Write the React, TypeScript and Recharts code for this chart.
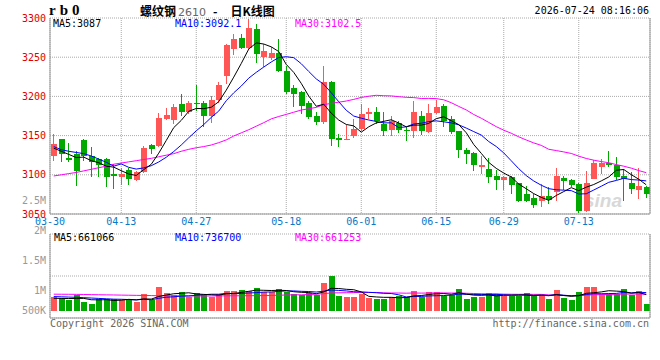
import type { FC } from "react";
import { ComposedChart, Bar, Line, XAxis, YAxis, CartesianGrid } from "recharts";

// rb2610 daily candles, 03-30 .. 07-24
const dates = [
  "03-30", "03-31", "04-01", "04-02", "04-03", "04-07", "04-08", "04-09", "04-10", "04-13",
  "04-14", "04-15", "04-16", "04-17", "04-20", "04-21", "04-22", "04-23", "04-24", "04-27",
  "04-28", "04-29", "04-30", "05-06", "05-07", "05-08", "05-11", "05-12", "05-13", "05-14",
  "05-15", "05-18", "05-19", "05-20", "05-21", "05-22", "05-25", "05-26", "05-27", "05-28",
  "05-29", "06-01", "06-02", "06-03", "06-04", "06-05", "06-08", "06-09", "06-10", "06-11",
  "06-12", "06-15", "06-16", "06-17", "06-18", "06-22", "06-23", "06-24", "06-25", "06-26",
  "06-29", "06-30", "07-01", "07-02", "07-03", "07-06", "07-07", "07-08", "07-09", "07-10",
  "07-13", "07-14", "07-15", "07-16", "07-17", "07-20", "07-21", "07-22", "07-23", "07-24",
];

const opens = [
  3124, 3146, 3122, 3127, 3144, 3124, 3120, 3120, 3101, 3097,
  3106, 3094, 3103, 3138, 3137, 3171, 3170, 3190, 3180, 3191,
  3191, 3175, 3195, 3226, 3261, 3274, 3262, 3286, 3250, 3249,
  3255, 3233, 3211, 3206, 3191, 3175, 3167, 3218, 3147, 3144,
  3150, 3158, 3178, 3180, 3165, 3157, 3166, 3157, 3156, 3175,
  3154, 3179, 3188, 3171, 3156, 3132, 3128, 3110, 3107, 3098,
  3093, 3097, 3089, 3075, 3071, 3066, 3073, 3078, 3096, 3093,
  3088, 3054, 3095, 3110, 3115, 3113, 3098, 3090, 3080, 3084,
];
const highs = [
  3152, 3146, 3141, 3130, 3146, 3135, 3122, 3122, 3114, 3109,
  3109, 3105, 3137, 3139, 3179, 3185, 3190, 3203, 3194, 3215,
  3194, 3200, 3218, 3267, 3279, 3279, 3299, 3292, 3267, 3263,
  3273, 3239, 3214, 3207, 3194, 3180, 3239, 3220, 3152, 3163,
  3171, 3190, 3185, 3187, 3180, 3175, 3168, 3161, 3194, 3182,
  3190, 3195, 3190, 3175, 3156, 3134, 3129, 3124, 3121, 3106,
  3098, 3098, 3090, 3086, 3076, 3088, 3084, 3109, 3099, 3095,
  3090, 3105, 3119, 3120, 3130, 3123, 3107, 3103, 3109, 3086,
];
const lows = [
  3118, 3116, 3116, 3086, 3118, 3097, 3097, 3084, 3082, 3087,
  3087, 3092, 3102, 3127, 3135, 3170, 3165, 3175, 3178, 3182,
  3161, 3166, 3192, 3216, 3253, 3261, 3261, 3243, 3237, 3246,
  3231, 3203, 3186, 3178, 3171, 3163, 3165, 3137, 3136, 3144,
  3147, 3156, 3171, 3165, 3150, 3149, 3153, 3143, 3147, 3151,
  3153, 3178, 3161, 3152, 3121, 3114, 3105, 3101, 3090, 3080,
  3080, 3076, 3065, 3065, 3058, 3059, 3063, 3066, 3081, 3084,
  3051, 3053, 3095, 3101, 3110, 3093, 3067, 3076, 3069, 3071,
];
const closes = [
  3139, 3126, 3119, 3105, 3124, 3116, 3113, 3097, 3099, 3101,
  3095, 3104, 3134, 3133, 3172, 3176, 3186, 3180, 3191, 3190,
  3175, 3195, 3215, 3265, 3273, 3262, 3287, 3254, 3258, 3255,
  3232, 3205, 3203, 3188, 3174, 3167, 3218, 3146, 3144, 3146,
  3158, 3178, 3180, 3169, 3156, 3168, 3157, 3156, 3180, 3156,
  3179, 3187, 3168, 3155, 3131, 3127, 3112, 3112, 3097, 3093,
  3097, 3087, 3067, 3067, 3062, 3073, 3068, 3098, 3092, 3087,
  3054, 3090, 3115, 3115, 3112, 3097, 3095, 3082, 3086, 3076,
];
const volumes = [
  547000, 506000, 437000, 642000, 369000, 273000, 478000, 478000, 478000, 437000,
  437000, 369000, 683000, 437000, 970000, 724000, 642000, 765000, 547000, 724000,
  642000, 574000, 683000, 806000, 806000, 847000, 806000, 929000, 765000, 765000,
  888000, 765000, 683000, 642000, 724000, 642000, 1134000, 1421000, 601000, 560000,
  560000, 683000, 519000, 478000, 478000, 560000, 601000, 560000, 806000, 560000,
  765000, 765000, 601000, 642000, 888000, 478000, 560000, 560000, 724000, 683000,
  601000, 601000, 601000, 724000, 601000, 642000, 478000, 847000, 519000, 437000,
  765000, 970000, 970000, 683000, 683000, 683000, 888000, 642000, 806000, 273000,
];

// moving averages where the window reaches before 03-30
const ma5Head = [3134, 3130, 3126, 3122];
const ma10Head = [3136, 3132, 3130, 3128.5, 3127, 3124, 3120, 3116, 3111];
const ma30Head = [
  3098.5, 3100, 3101.5, 3103, 3105, 3107, 3109, 3111, 3113.5, 3115,
  3116.5, 3118, 3119.5, 3121, 3123, 3125, 3127, 3130, 3132.5, 3134.5,
  3136, 3138, 3141, 3144.5, 3149.5, 3153.5, 3157.5, 3162, 3166.5,
];
const volMa5Head = [505000, 500000, 495000, 498000];
const volMa10Head = [575000, 565000, 555000, 545000, 530000, 515000, 500000, 485000, 470000];
const volMa30Head = [
  672000, 670000, 668000, 665000, 660000, 655000, 650000, 645000, 640000, 635000,
  630000, 625000, 620000, 615000, 610000, 607000, 605000, 603000, 600000, 600000,
  600000, 600000, 602000, 604000, 606000, 608000, 610000, 613000, 616000,
];

const dateTicks = ["03-30", "04-13", "04-27", "05-18", "06-01", "06-15", "06-29", "07-13"];
const priceTicks = [3050, 3100, 3150, 3200, 3250, 3300];
const volLabelTicks = [500000, 1000000, 1500000, 2000000, 2500000];

const RED = "#ff5555";
const GREEN = "#00a800";
const GRID = "#aaaaaa";
const FRAME = "#999999";
const mono = '"DejaVu Sans Mono", "Liberation Mono", monospace';

const movingAvg = (src: number[], n: number, head: number[]) =>
  src.map((_, i) =>
    i < n - 1 ? head[i] : src.slice(i - n + 1, i + 1).reduce((a, b) => a + b, 0) / n
  );

const ma5 = movingAvg(closes, 5, ma5Head);
const ma10 = movingAvg(closes, 10, ma10Head);
const ma30 = movingAvg(closes, 30, ma30Head);
const vma5 = movingAvg(volumes, 5, volMa5Head);
const vma10 = movingAvg(volumes, 10, volMa10Head);
const vma30 = movingAvg(volumes, 30, volMa30Head);

const rows = dates.map((date, i) => ({
  pos: i + 0.5,
  date,
  open: opens[i],
  high: highs[i],
  low: lows[i],
  close: closes[i],
  range: [lows[i], highs[i]],
  ma5: ma5[i],
  ma10: ma10[i],
  ma30: ma30[i],
  vol: volumes[i],
  vma5: vma5[i],
  vma10: vma10[i],
  vma30: vma30[i],
}));

// x ticks: first label sits on the left frame, the rest on their candle
const tickPos = dateTicks.map((d) => (d === dates[0] ? 0 : dates.indexOf(d) + 0.5));
const tickLabel = (v: number) => dates[Math.floor(v)] ?? "";

const volMin = -300000;
const volMax = 3130000;
const volGrid = [1, 2, 3, 4].map((k) => volMin + ((volMax - volMin) * k) / 4);

const fmtVol = (v: number) => (v >= 1000000 ? `${v / 1000000}M` : `${v / 1000}K`);

const Candle = (props: any) => {
  const { x, y, width, height, payload } = props;
  const { open, close, high, low } = payload;
  const color = close >= open ? RED : GREEN;
  const k = high > low ? height / (high - low) : 0;
  const yOf = (v: number) => y + (high - v) * k;
  const left = Math.round(x);
  const w = Math.round(width);
  const cx = left + Math.floor(w / 2) - 0.5;
  const top = Math.round(yOf(Math.max(open, close)));
  const bottom = Math.round(yOf(Math.min(open, close)));
  return (
    <g>
      <line x1={cx} x2={cx} y1={Math.round(yOf(high))} y2={Math.round(yOf(low))} stroke={color} strokeWidth={1} />
      <rect x={left} y={top} width={w} height={Math.max(1, bottom - top)} fill={color} />
    </g>
  );
};

const VolBar = (props: any) => {
  const { x, y, width, height, payload } = props;
  const top = Math.round(y);
  const bottom = Math.round(y + height);
  return (
    <rect
      x={Math.round(x)}
      y={top}
      width={Math.round(width)}
      height={Math.max(0, bottom - top)}
      fill={payload.close >= payload.open ? RED : GREEN}
    />
  );
};

const VolTick = (props: any) => {
  const { x, y, payload } = props;
  return (
    <text x={x} y={Math.min(y, 310)} dy="0.355em" textAnchor="end" fill="#999" fontSize={10} fontFamily={mono}>
      {fmtVol(payload.value)}
    </text>
  );
};

const Txt: FC<{ x: number; y: number; color?: string; right?: boolean; children: any }> = ({
  x,
  y,
  color = "#000",
  right,
  children,
}) => (
  <div
    style={{
      position: "absolute",
      top: y - 6,
      ...(right ? { right: 660 - x } : { left: x }),
      color,
      font: `10px ${mono}`,
      lineHeight: "12px",
      whiteSpace: "pre",
    }}
  >
    {children}
  </div>
);

const layer = { position: "absolute" as const, left: 0, top: 0 };

const App: FC = () => {
  return (
    <div style={{ position: "absolute", left: 0, top: 0, width: 660, height: 360, background: "#fff", overflow: "hidden" }}>
      <div
        style={{
          position: "absolute",
          left: 584,
          top: 190,
          color: "#d8d8d8",
          font: 'italic bold 19px "Liberation Sans", sans-serif',
        }}
      >
        sina
      </div>

      <div style={layer}>
        <ComposedChart width={660} height={360} data={rows} margin={{ top: 18, right: 9, bottom: 130, left: 0 }}>
          <CartesianGrid stroke={GRID} strokeDasharray="1 1" />
          <XAxis
            type="number"
            dataKey="pos"
            domain={[0, 80]}
            ticks={tickPos}
            interval={0}
            tickFormatter={tickLabel}
            height={16}
            tickSize={2}
            tickMargin={2}
            tickLine={false}
            axisLine={{ stroke: FRAME }}
            tick={{ fill: "#0a78c8", fontSize: 10, fontFamily: mono }}
          />
          <YAxis
            domain={[3050, 3300]}
            allowDataOverflow
            ticks={priceTicks}
            interval={0}
            width={50}
            tickSize={2}
            tickMargin={2}
            tickLine={false}
            axisLine={{ stroke: FRAME }}
            tick={{ fill: "#e00000", fontSize: 10, fontFamily: mono }}
          />
          <YAxis yAxisId="frame" orientation="right" domain={[0, 1]} width={1} tick={false} tickLine={false} axisLine={{ stroke: FRAME }} />
          <Bar dataKey="range" barSize={6} shape={Candle} isAnimationActive={false} />
          <Line type="linear" dataKey="ma30" stroke="#ff00ff" strokeWidth={1} dot={false} isAnimationActive={false} />
          <Line type="linear" dataKey="ma10" stroke="#0000ff" strokeWidth={1} dot={false} isAnimationActive={false} />
          <Line type="linear" dataKey="ma5" stroke="#000000" strokeWidth={1} dot={false} isAnimationActive={false} />
        </ComposedChart>
      </div>

      <div style={layer}>
        <ComposedChart width={660} height={360} data={rows} margin={{ top: 234, right: 9, bottom: 41, left: 0 }}>
          <CartesianGrid yAxisId="vol" stroke={GRID} strokeDasharray="1 1" />
          <XAxis
            type="number"
            dataKey="pos"
            domain={[0, 80]}
            ticks={tickPos}
            interval={0}
            height={1}
            tick={false}
            tickLine={false}
            axisLine={{ stroke: FRAME }}
          />
          <YAxis yAxisId="vol" hide domain={[volMin, volMax]} allowDataOverflow ticks={volGrid} />
          <YAxis
            yAxisId="lbl"
            domain={[550000, 1945000]}
            allowDataOverflow
            ticks={volLabelTicks}
            interval={0}
            width={50}
            tickSize={2}
            tickMargin={2}
            tickLine={false}
            axisLine={{ stroke: FRAME }}
            tick={VolTick}
          />
          <YAxis yAxisId="frame" orientation="right" domain={[0, 1]} width={1} tick={false} tickLine={false} axisLine={{ stroke: FRAME }} />
          <Bar yAxisId="vol" dataKey="vol" barSize={6} shape={VolBar} isAnimationActive={false} />
          <Line yAxisId="vol" type="linear" dataKey="vma30" stroke="#ff00ff" strokeWidth={1} dot={false} isAnimationActive={false} />
          <Line yAxisId="vol" type="linear" dataKey="vma10" stroke="#0000ff" strokeWidth={1} dot={false} isAnimationActive={false} />
          <Line yAxisId="vol" type="linear" dataKey="vma5" stroke="#000000" strokeWidth={1} dot={false} isAnimationActive={false} />
        </ComposedChart>
      </div>

      <div
        style={{
          position: "absolute",
          left: 49,
          top: 2,
          font: 'bold 15px "Liberation Serif", serif',
          letterSpacing: "4px",
          color: "#000",
        }}
      >
        rb0
      </div>
      <div
        style={{
          position: "absolute",
          left: 140,
          top: 3,
          font: 'bold 12px "Noto Sans CJK SC", sans-serif',
          lineHeight: "16px",
          color: "#000",
          whiteSpace: "pre",
        }}
      >
        螺纹钢
        <span style={{ font: '11px "DejaVu Sans", sans-serif', color: "#666", marginLeft: 2 }}>2610</span>
        <span style={{ marginLeft: 7 }}>-</span>
        <span style={{ marginLeft: 13 }}>日K线图</span>
      </div>
      <Txt x={649} y={11} right>
        2026-07-24 08:16:06
      </Txt>

      <Txt x={53} y={24}>MA5:3087</Txt>
      <Txt x={175} y={24} color="#0000ff">MA10:3092.1</Txt>
      <Txt x={295} y={24} color="#ff00ff">MA30:3102.5</Txt>

      <Txt x={54} y={238}>MA5:661066</Txt>
      <Txt x={175} y={238} color="#0000ff">MA10:736700</Txt>
      <Txt x={295} y={238} color="#ff00ff">MA30:661253</Txt>

      <Txt x={50} y={324} color="#666">Copyright 2026 SINA.COM</Txt>
      <Txt x={649} y={324} color="#666" right>
        http://finance.sina.com.cn
      </Txt>
    </div>
  );
};

export default App;
